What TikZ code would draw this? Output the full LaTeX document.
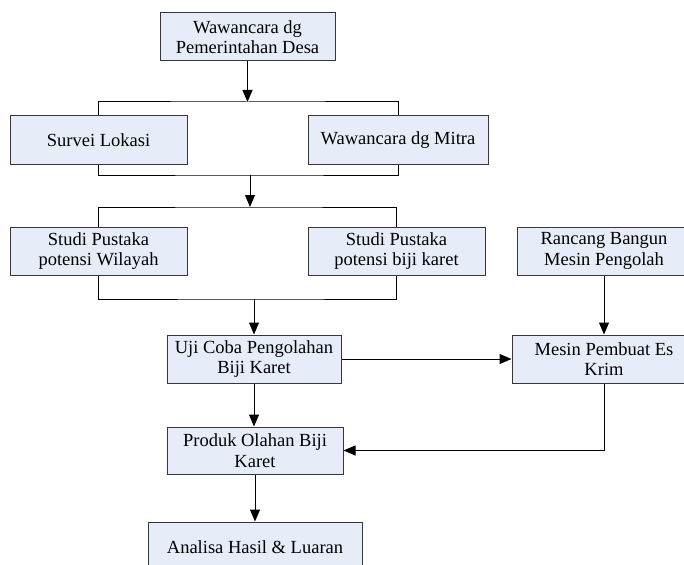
\documentclass[tikz,border=0pt]{standalone}
\usepackage{fontspec}
\setmainfont{Liberation Serif}
\usetikzlibrary{arrows.meta}
\definecolor{boxfill}{RGB}{231,237,248}
\definecolor{boxline}{RGB}{55,55,55}
\begin{document}
\begin{tikzpicture}[x=1pt,y=-1pt,
  box/.style={draw=boxline,line width=1pt,fill=boxfill,rectangle,inner sep=0pt,
    align=center,font=\fontsize{18.5}{20.5}\selectfont},
  link/.style={draw=black,line width=1pt},
  arr/.style={link,-{Triangle[length=12pt,width=10pt]}}]
\useasboundingbox (0,0) rectangle (684,564);
\node[box,minimum width=175pt,minimum height=48pt] (desa) at (247.5,37) {Wawancara dg\\Pemerintahan Desa};
\node[box,minimum width=177pt,minimum height=48pt] (survei) at (98.5,140) {Survei Lokasi};
\node[box,minimum width=180pt,minimum height=48pt] (mitra) at (398,140) {Wawancara dg Mitra};
\node[box,minimum width=177pt,minimum height=48pt] (wil) at (98.5,251) {Studi Pustaka\\potensi Wilayah};
\node[box,minimum width=177pt,minimum height=48pt] (biji) at (396.5,251) {Studi Pustaka\\potensi biji karet};
\node[box,minimum width=174pt,minimum height=48pt] (rancang) at (604,251) {Rancang Bangun\\Mesin Pengolah};
\node[box,minimum width=174pt,minimum height=48pt] (uji) at (254,359) {Uji Coba Pengolahan\\Biji Karet};
\node[box,minimum width=184pt,minimum height=48pt] (mesin) at (604,359) {Mesin Pembuat Es\\Krim};
\node[box,minimum width=176pt,minimum height=47pt] (produk) at (255,450.5) {Produk Olahan Biji\\Karet};
\node[box,minimum width=214pt,minimum height=50pt] (analisa) at (255,547) {Analisa Hasil \& Luaran};
\coordinate (j1) at (247.5,102);
\coordinate (j2) at (250,175);
\coordinate (j3) at (250,207);
\coordinate (j4) at (254,299);
\draw[arr] (desa.south) -- (j1);
\draw[link] (survei.north) |- (j1) -| (mitra.north);
\draw[link] (survei.south) |- (j2) -| (mitra.south);
\draw[arr] (j2) -- (j3);
\draw[link] (wil.north) |- (j3) -| (biji.north);
\draw[link] (wil.south) |- (j4) -| (biji.south);
\draw[arr] (j4) -- (j4 |- uji.north);
\draw[arr] (rancang.south) -- (mesin.north);
\draw[arr] (uji.east) -- (mesin.west);
\draw[arr] (uji.south) -- (uji.south |- produk.north);
\draw[arr] (mesin.south) |- (produk.east);
\draw[arr] (produk.south) -- (produk.south |- analisa.north);
\end{tikzpicture}
\end{document}
